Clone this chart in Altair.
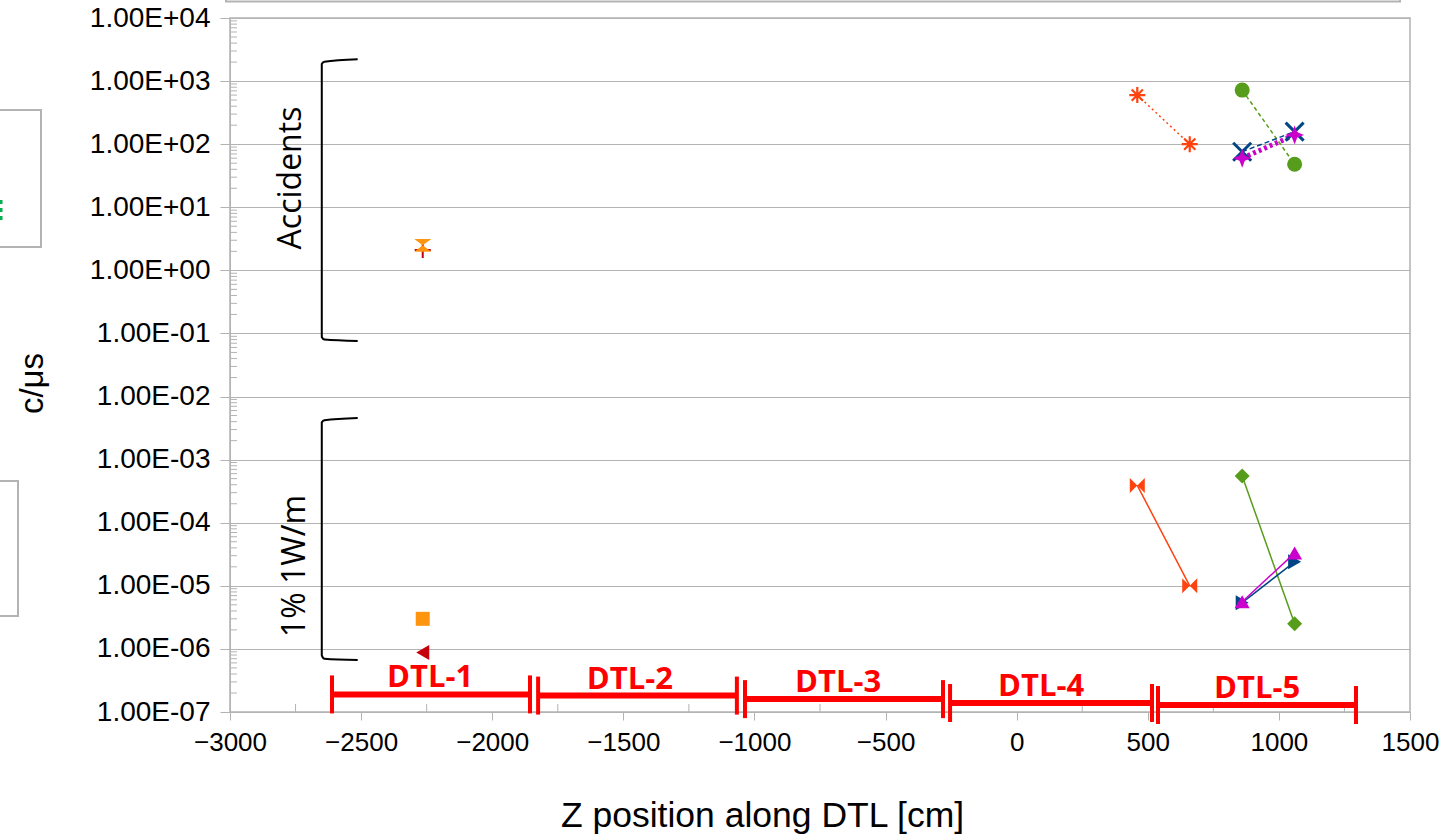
import altair as alt
import pandas as pd

# ---------------- data ----------------
series_id = ["acc_a", "acc_b", "acc_c", "acc_d",
             "low_a", "low_b", "low_c", "low_d",
             "acc_dtl1_plus", "acc_dtl1_hour", "low_dtl1_sq", "low_dtl1_tri"]
series_z = [[460, 660], [860, 1060], [860, 1060], [860, 1060],
            [460, 660], [860, 1060], [860, 1060], [860, 1060],
            [-2265], [-2265], [-2265], [-2265]]
series_rate = [[600, 100], [720, 48], [76, 158], [60, 140],
               [3.9e-4, 1.0e-5], [5.5e-4, 2.5e-6], [5.4e-6, 2.4e-5], [5.6e-6, 3.3e-5],
               [2.1], [2.5], [3.0e-6], [8.8e-7]]

# DTL tanks (annotation bars)
dtl_names = ["DTL-1", "DTL-2", "DTL-3", "DTL-4", "DTL-5"]
dtl_start = [-2611, -1825, -1036, -254, 539]
dtl_end = [-1856, -1067, -281, 516, 1294]
dtl_level = [1.9e-7, 1.82e-7, 1.6e-7, 1.39e-7, 1.29e-7]
dtl_label_z = [-2237, -1475, -681, 93, 917]

# brackets
bracket1_z = [-2513, -2640, -2650, -2650, -2640, -2513]
bracket1_rate = [2215, 2029, 1866, 0.088, 0.080, 0.0759]
bracket2_z = [-2513, -2640, -2650, -2650, -2640, -2513]
bracket2_rate = [4.57e-3, 4.2e-3, 3.9e-3, 7.9e-7, 7.0e-7, 6.67e-7]
bracket_text = ["Accidents", "1% 1W/m"]
bracket_text_z = [-2767, -2752]
bracket_text_rate = [29.1, 2.06e-5]

x_ticks = [-3000, -2500, -2000, -1500, -1000, -500, 0, 500, 1000, 1500]
x_minor = [-2750, -2250, -1750, -1250, -750, -250, 250, 750, 1250]
y_ticks = [1e-7, 1e-6, 1e-5, 1e-4, 1e-3, 1e-2, 1e-1, 1e0, 1e1, 1e2, 1e3, 1e4]
y_minor = [m * 10.0 ** n for n in range(-7, 4) for m in range(2, 10)]

# ---------------- styles ----------------
ASTERISK = "M-1,0L1,0M0,-1L0,1M-0.7,-0.7L0.7,0.7M-0.7,0.7L0.7,-0.7"
XSHAPE = "M-1,-1L1,1M-1,1L1,-1"
PLUS = "M-1,0L1,0M0,-1L0,1"
STAR4 = "M0,-1L0.28,-0.28L1,0L0.28,0.28L0,1L-0.28,0.28L-1,0L-0.28,-0.28Z"
HOURGLASS = "M-1,-0.75L1,-0.75L0,0L1,0.75L-1,0.75L0,0Z"
BOWTIE = "M-1,-1L0,0L1,-1L1,1L0,0L-1,1Z"

series_color = ["#ff420e", "#579d1c", "#004586", "#cc00cc",
                "#ff420e", "#579d1c", "#004586", "#cc00cc",
                "#c5000b", "#ff950e", "#ff950e", "#c5000b"]
series_shape = [ASTERISK, "circle", XSHAPE, STAR4,
                BOWTIE, "diamond", "triangle-right", "triangle-up",
                PLUS, HOURGLASS, "square", "triangle-left"]
series_filled = [False, True, False, True,
                 True, True, True, True,
                 False, True, True, True]
series_size = [256, 225, 324, 361,
               225, 225, 225, 225,
               256, 289, 196, 225]
series_stroke = [2.2, 1, 3, 1, 1, 1, 1, 1, 2, 1, 1, 1]
line_dash = [[2, 3], [4, 3], [5, 3], [3, 3], None, None, None, None]
line_width = [1.5, 1.5, 1.5, 5, 1.5, 1.5, 1.5, 1.5]

GRID = "#b3b3b3"
FONT = "Liberation Sans"
RED = "#ff0000"

xs = alt.Scale(domain=[-3000, 1500], nice=False, zero=False)
ys = alt.Scale(type="log", domain=[1e-7, 1e4], nice=False)

xaxis = alt.Axis(values=x_ticks, labelExpr="(datum.value < 0 ? '\u2212' : '') + abs(datum.value)",
                 labelFont=FONT, labelFontSize=26, labelColor="black", labelPadding=9,
                 labelFlush=False, labelOverlap=False,
                 tickSize=8, tickColor=GRID, domainColor=GRID, grid=False,
                 title="Z position along DTL [cm]", titleFont=FONT, titleFontSize=35.5,
                 titleFontWeight="normal", titleColor="black", titleX=532, titleY=103,
                 titleAlign="center", titleBaseline="middle")
yaxis = alt.Axis(values=y_ticks,
                 labelExpr="'1.00E' + (datum.value >= 1 ? '+' : '-') + (abs(round(log(datum.value)/LN10)) < 10 ? '0' : '') + abs(round(log(datum.value)/LN10))",
                 labelFont=FONT, labelFontSize=28, labelColor="black", labelPadding=10,
                 labelFlush=False, labelOverlap=False,
                 tickSize=10, tickColor=GRID, domainColor=GRID, grid=True, gridColor=GRID,
                 title="c/μs", titleFont=FONT, titleFontSize=33, titleFontWeight="normal",
                 titleColor="black", titleX=-198, titleY=365, titleAngle=270,
                 titleAlign="center", titleBaseline="middle")


def X(f="z"):
    return alt.X(f"{f}:Q", scale=xs, axis=xaxis)


def Y(f="rate"):
    return alt.Y(f"{f}:Q", scale=ys, axis=yaxis)


layers = []
one = pd.DataFrame({"a": [0]})

# fragments of the legend boxes cut off at the picture's edges
for (x1, x2, y1, y2) in [(-300, -189, 92, 229), (-300, -212, 463, 598), (-4, 1170, -60, -16.5)]:
    layers.append(alt.Chart(one).mark_rect(fillOpacity=0, stroke=GRID, strokeWidth=2).encode(
        x=alt.value(x1), x2=alt.value(x2), y=alt.value(y1), y2=alt.value(y2)))
layers.append(alt.Chart(one).mark_rule(color="#00b050", strokeWidth=3, strokeDash=[4, 4]).encode(
    x=alt.value(-229), y=alt.value(182), y2=alt.value(204)))

# minor ticks
layers.append(alt.Chart(pd.DataFrame({"rate": y_minor})).mark_rule(color=GRID, strokeWidth=1).encode(
    y=Y(), x=alt.value(0), x2=alt.value(7)))
layers.append(alt.Chart(pd.DataFrame({"z": x_minor})).mark_rule(color=GRID, strokeWidth=1).encode(
    x=X(), y=alt.value(686), y2=alt.value(694)))

# brackets
for bz, br in [(bracket1_z, bracket1_rate), (bracket2_z, bracket2_rate)]:
    df = pd.DataFrame({"z": bz, "rate": br, "i": list(range(len(bz)))})
    layers.append(alt.Chart(df).mark_line(color="black", strokeWidth=2, interpolate="monotone").encode(
        x=X(), y=Y(), order="i:Q"))
layers.append(alt.Chart(pd.DataFrame({"z": bracket_text_z, "rate": bracket_text_rate, "t": bracket_text}))
              .mark_text(font="Open Sans", fontSize=32, angle=270, align="center", baseline="middle",
                         color="black").encode(x=X(), y=Y(), text="t:N"))

# DTL bars
dtl = pd.DataFrame({"z": dtl_start, "z2": dtl_end, "rate": dtl_level, "name": dtl_names,
                    "lz": dtl_label_z})
layers.append(alt.Chart(dtl).mark_rule(color=RED, strokeWidth=6).encode(
    x=X(), x2="z2:Q", y=Y()))
caps = pd.DataFrame({"z": dtl_start + dtl_end, "rate": dtl_level + dtl_level})
layers.append(alt.Chart(caps).mark_point(shape="M0,-1L0,1", size=38 * 38, strokeWidth=4, color=RED,
                                         filled=False, opacity=1, strokeCap="butt").encode(x=X(), y=Y()))
layers.append(alt.Chart(dtl).mark_text(font="Open Sans", fontWeight="bold", fontSize=31, color=RED,
                                       baseline="alphabetic", align="center", dy=-7).encode(
    x=X("lz"), y=Y(), text="name:N"))

# series lines
for k in range(8):
    df = pd.DataFrame({"z": series_z[k], "rate": series_rate[k]})
    kw = dict(color=series_color[k], strokeWidth=line_width[k])
    if line_dash[k] is not None:
        kw["strokeDash"] = line_dash[k]
    layers.append(alt.Chart(df).mark_line(**kw).encode(x=X(), y=Y()))

# series points
for k in range(len(series_id)):
    df = pd.DataFrame({"z": series_z[k], "rate": series_rate[k]})
    if series_filled[k]:
        m = alt.Chart(df).mark_point(shape=series_shape[k], filled=True, color=series_color[k],
                                     size=series_size[k], opacity=1)
    else:
        m = alt.Chart(df).mark_point(shape=series_shape[k], filled=False, color=series_color[k],
                                     size=series_size[k], strokeWidth=series_stroke[k], opacity=1)
    layers.append(m.encode(x=X(), y=Y()))

chart = alt.layer(*layers).properties(
    width=1180, height=694,
    padding={"left": 230, "top": 18, "right": 45, "bottom": 123},
    autosize=alt.AutoSizeParams(type="none"),
    background="white",
).configure_view(stroke=GRID, strokeWidth=1.5)

chart.save("out.html", embed_options={"renderer": "svg", "actions": False})
